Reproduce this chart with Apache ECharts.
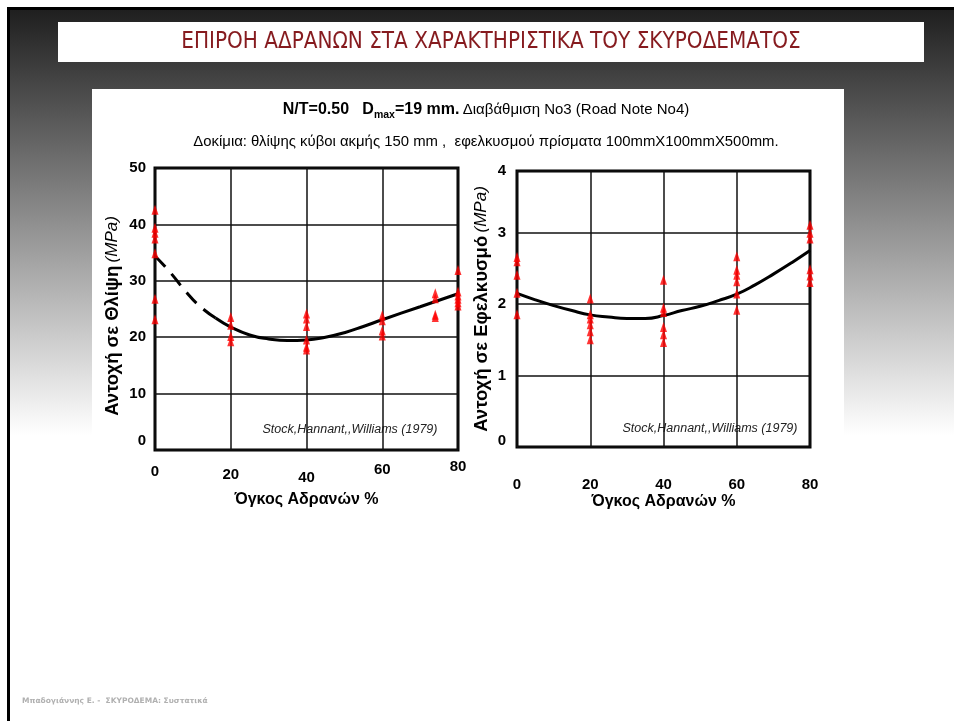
<!DOCTYPE html>
<html>
<head>
<meta charset="utf-8">
<script src="https://cdn.jsdelivr.net/npm/echarts@6/dist/echarts.min.js"></script>
<style>
  html, body { margin: 0; padding: 0; background: #fff; }
  #slide { position: relative; width: 954px; height: 721px; overflow: hidden; }
  #frame { position: absolute; left: 7px; top: 7px; right: 0; bottom: 0;
           border-left: 3px solid #000; border-top: 3px solid #000;
           background: linear-gradient(to bottom, #1f1f1f 0px, #ffffff 425px, #ffffff 100%); }
  #titlebox { position: absolute; left: 58px; top: 22px; width: 866px; height: 40px; background: #fff; }
  #panel { position: absolute; left: 92px; top: 89px; width: 752px; height: 632px; background: #fff; }
  #chart { position: absolute; left: 0; top: 0; width: 954px; height: 721px; }
</style>
</head>
<body>
<div id="slide">
  <div id="frame"></div>
  <div id="titlebox"></div>
  <div id="panel"></div>
  <div id="chart"></div>
</div>
<script>
// Aggregate volume (%) where specimens were tested
const xTicks = [0, 20, 40, 60, 80];

// Compressive strength (MPa), cubes 150 mm
const comp0  = [42.6, 39.4, 38.5, 37.5, 34.9, 26.8, 23.2];
const comp20 = [23.6, 22.2, 20.2, 19.3];
const comp40 = [24.2, 23.3, 22.0, 19.6, 18.3, 17.8];
const comp60 = [23.9, 23.0, 21.2, 20.3];
const comp74 = [27.8, 26.9, 24.0, 23.6];
const comp80 = [31.9, 28.1, 27.4, 26.8, 26.2, 25.6];
const compGroupX = [0, 20, 40, 60, 74, 80];

// Compressive trend curve (dashed part is extrapolated)
const compDashX = [0, 4, 8, 12, 16];
const compDashY = [34.4, 31.5, 28.2, 25.4, 23.4];
const compSolidX = [16, 20, 25, 30, 35, 40, 45, 50, 55, 60, 70, 80];
const compSolidY = [23.4, 21.8, 20.4, 19.7, 19.4, 19.5, 20.0, 20.8, 21.9, 23.1, 25.4, 27.7];

// Flexural/tensile strength (MPa), prisms 100x100x500 mm
const tens0  = [2.66, 2.60, 2.41, 2.16, 1.86];
const tens20 = [2.08, 1.86, 1.80, 1.72, 1.62, 1.51];
const tens40 = [2.34, 1.95, 1.89, 1.68, 1.58, 1.47];
const tens60 = [2.67, 2.48, 2.41, 2.32, 2.15, 1.92];
const tens80 = [3.11, 3.00, 2.92, 2.49, 2.40, 2.31];
const tensGroupX = [0, 20, 40, 60, 80];

// Tensile trend curve
const tensCurveX = [0, 5, 10, 15, 20, 25, 30, 35, 40, 45, 50, 55, 60, 65, 70, 75, 80];
const tensCurveY = [2.15, 2.06, 1.98, 1.91, 1.85, 1.82, 1.80, 1.80, 1.84, 1.91, 1.97, 2.05, 2.14, 2.27, 2.42, 2.58, 2.75];

const FONT = '"Liberation Sans", Arial, sans-serif';
const zip = (xs, ys) => xs.map((x, i) => [x, ys[i]]);

function markers(gi, xs, groups) {
  const data = [];
  groups.forEach((vals, k) => vals.forEach(v => data.push([xs[k], v])));
  return {
    type: 'scatter', xAxisIndex: gi, yAxisIndex: gi, data,
    symbol: 'triangle', symbolSize: [7, 10],
    itemStyle: { color: '#ff0000' }, z: 5, silent: true
  };
}
function curve(gi, data, dashed) {
  return {
    type: 'line', xAxisIndex: gi, yAxisIndex: gi, data, smooth: true,
    showSymbol: false, silent: true, z: 4,
    lineStyle: { color: '#000', width: 3, type: dashed ? [15, 9] : 'solid' }
  };
}

const labelBase = { color: '#000', fontFamily: FONT, fontWeight: 'bold', fontSize: 15 };
// staggered x labels on the left panel
const stagger = { 0: 5, 20: 8, 40: 11, 60: 3, 80: 0 };
const leftXRich = {};
xTicks.forEach(t => { leftXRich['p' + t] = Object.assign({}, labelBase, { padding: [stagger[t], 0, 0, 0] }); });

const splitStyle = { lineStyle: { color: '#111', width: 1.5 } };
const nameRich = {
  b: { fontFamily: FONT, fontWeight: 'bold', fontSize: 18.5, color: '#000' },
  i: { fontFamily: FONT, fontStyle: 'italic', fontSize: 17, color: '#000' }
};
const xNameStyle = { fontFamily: FONT, fontWeight: 'bold', fontSize: 16, color: '#000' };

const option = {
  animation: false,
  grid: [
    { left: 155, top: 168, width: 303, height: 282, show: true, borderColor: '#000', borderWidth: 3, backgroundColor: 'transparent' },
    { left: 517, top: 171, width: 293, height: 276, show: true, borderColor: '#000', borderWidth: 3, backgroundColor: 'transparent' }
  ],
  xAxis: [
    {
      gridIndex: 0, type: 'value', min: 0, max: 80, interval: 20,
      axisLine: { show: false }, axisTick: { show: false }, splitLine: splitStyle,
      axisLabel: { margin: 9, formatter: v => '{p' + v + '|' + v + '}', rich: leftXRich, ...labelBase },
      name: 'Όγκος Αδρανών %', nameLocation: 'middle', nameGap: 42, nameTextStyle: xNameStyle
    },
    {
      gridIndex: 1, type: 'value', min: 0, max: 80, interval: 20,
      axisLine: { show: false }, axisTick: { show: false }, splitLine: splitStyle,
      axisLabel: { margin: 30, ...labelBase },
      name: 'Όγκος Αδρανών %', nameLocation: 'middle', nameGap: 47, nameTextStyle: xNameStyle
    }
  ],
  yAxis: [
    {
      gridIndex: 0, type: 'value', min: 0, max: 50, interval: 10,
      axisLine: { show: false }, axisTick: { show: false }, splitLine: splitStyle,
      axisLabel: {
        margin: 9, ...labelBase,
        formatter: v => v === 0 ? '{z|0}' : String(v),
        rich: { z: Object.assign({}, labelBase, { padding: [0, 0, 18, 0] }) }
      },
      name: '{b|Αντοχή σε Θλίψη} {i|(MPa)}', nameLocation: 'middle', nameRotate: 90, nameGap: 33,
      nameTextStyle: { rich: nameRich, padding: [0, 14, 0, 0] }
    },
    {
      gridIndex: 1, type: 'value', min: 0, max: 3.864, interval: 1,
      axisLine: { show: false }, axisTick: { show: false }, splitLine: splitStyle,
      axisLabel: {
        margin: 11, ...labelBase, showMaxLabel: true,
        formatter: v => v === 0 ? '{z|0}' : (v > 3.5 ? '4' : String(v)),
        rich: { z: Object.assign({}, labelBase, { padding: [0, 0, 12, 0] }) }
      },
      name: '{b|Αντοχή σε Εφελκυσμό} {i|(MPa)}', nameLocation: 'middle', nameRotate: 90, nameGap: 26,
      nameTextStyle: { rich: nameRich }
    }
  ],
  series: [
    markers(0, compGroupX, [comp0, comp20, comp40, comp60, comp74, comp80]),
    curve(0, zip(compDashX, compDashY), true),
    curve(0, zip(compSolidX, compSolidY), false),
    markers(1, tensGroupX, [tens0, tens20, tens40, tens60, tens80]),
    curve(1, zip(tensCurveX, tensCurveY), false)
  ],
  graphic: [
    { type: 'text', x: 491, y: 42, silent: true,
      style: { text: 'ΕΠΙΡΟΗ ΑΔΡΑΝΩΝ ΣΤΑ ΧΑΡΑΚΤΗΡΙΣΤΙΚΑ ΤΟΥ ΣΚΥΡΟΔΕΜΑΤΟΣ', align: 'center', verticalAlign: 'middle',
               fill: '#861b1f', font: '22.3px "Liberation Sans Narrow", "DejaVu Sans Condensed", sans-serif' } },
    { type: 'text', x: 486, y: 110, silent: true,
      style: {
        text: '{b|N/T=0.50   D}{s|max}{b|=19 mm.} {r|Διαβάθμιση No3 (Road Note No4)}',
        align: 'center', verticalAlign: 'middle',
        rich: {
          b: { fontFamily: FONT, fontWeight: 'bold', fontSize: 16, fill: '#000' },
          s: { fontFamily: FONT, fontWeight: 'bold', fontSize: 10.5, fill: '#000', padding: [10, 0, 0, 0] },
          r: { fontFamily: FONT, fontSize: 15, fill: '#000' }
        }
      } },
    { type: 'text', x: 486, y: 142, silent: true,
      style: { text: 'Δοκίμια: θλίψης κύβοι ακμής 150 mm ,  εφελκυσμού πρίσματα 100mmX100mmX500mm.',
               align: 'center', verticalAlign: 'middle', fill: '#000', font: '14.9px ' + FONT } },
    { type: 'text', x: 350, y: 430, silent: true,
      style: { text: 'Stock,Hannant,,Williams (1979)', align: 'center', verticalAlign: 'middle',
               fill: '#222', font: 'italic 12.5px ' + FONT } },
    { type: 'text', x: 710, y: 429, silent: true,
      style: { text: 'Stock,Hannant,,Williams (1979)', align: 'center', verticalAlign: 'middle',
               fill: '#222', font: 'italic 12.5px ' + FONT } },
    { type: 'text', x: 22, y: 701, silent: true,
      style: { text: 'Μπαδογιάννης Ε. -  ΣΚΥΡΟΔΕΜΑ: Συστατικά', align: 'left', verticalAlign: 'middle',
               fill: '#b0b0b0', font: 'bold 7.5px "DejaVu Sans", sans-serif' } }
  ]
};

const chart = echarts.init(document.getElementById('chart'), null, { renderer: 'canvas' });
chart.setOption(option);
</script>
</body>
</html>
